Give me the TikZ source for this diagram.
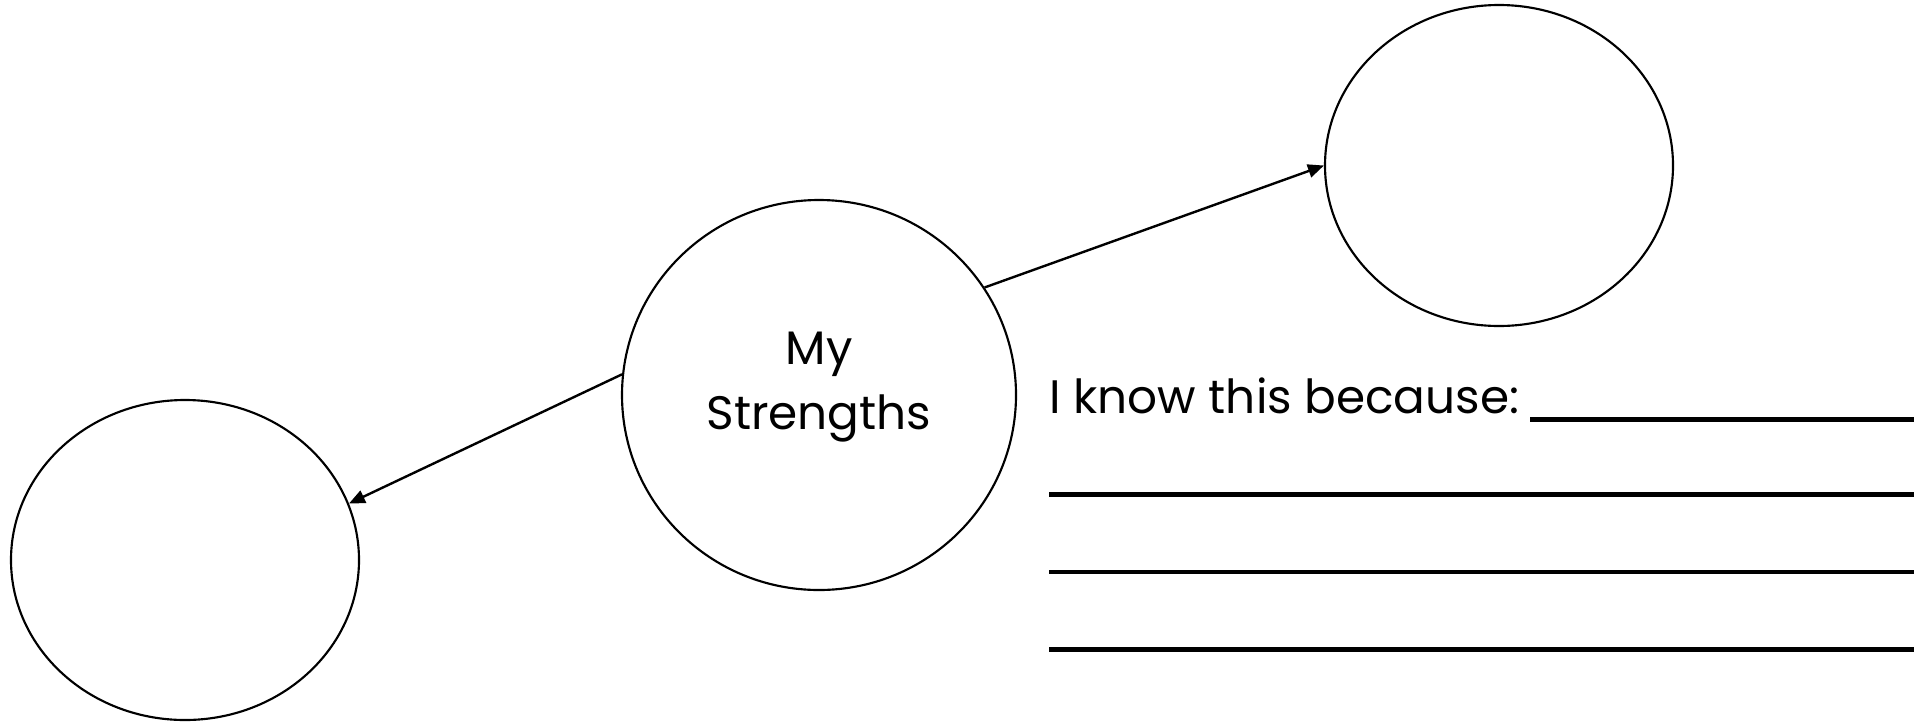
\documentclass[tikz,border=0pt]{standalone}
\usepackage{fontspec}
\setmainfont{Poppins}
\usepackage{tikz}
\usetikzlibrary{shapes.geometric,arrows.meta,positioning}

\begin{document}
\begin{tikzpicture}[
  x=0.375pt,y=-0.375pt,
  bubble/.style={ellipse,draw=black,line width=0.8pt,inner sep=0pt},
  arrow/.style={-{Triangle[length=6pt,width=5pt]},line width=0.9pt},
  rule/.style={line width=1.6pt},
  lbl/.style={font=\fontsize{17.6}{24.5}\selectfont,inner sep=0pt}
]
  \useasboundingbox (0,0) rectangle (1929,722);

  \node[bubble,minimum width=394*0.375pt,minimum height=390*0.375pt] (mybubble) at (819,395) {};
  \node[lbl,align=center] (mytext) at (819,387) {My\\Strengths};
  \node[bubble,minimum width=348*0.375pt,minimum height=321*0.375pt] (topbubble) at (1499,165.5) {};
  \node[bubble,minimum width=348*0.375pt,minimum height=320*0.375pt] (leftbubble) at (185,560) {};

  \draw[arrow] (mybubble.33) -- (topbubble.west);
  \draw[arrow] (mybubble.174) -- (leftbubble.19);

  % writing lines
  \node[lbl,anchor=base west] (because) at (1049,413) {I know this because:};
  \coordinate (lineend) at (1914,419.5);
  \draw[rule] (1530,419.5) -- (lineend);
  \foreach \y in {494.5,572,649.5}
    \draw[rule] (1049,\y) -- (1914,\y);
\end{tikzpicture}
\end{document}
